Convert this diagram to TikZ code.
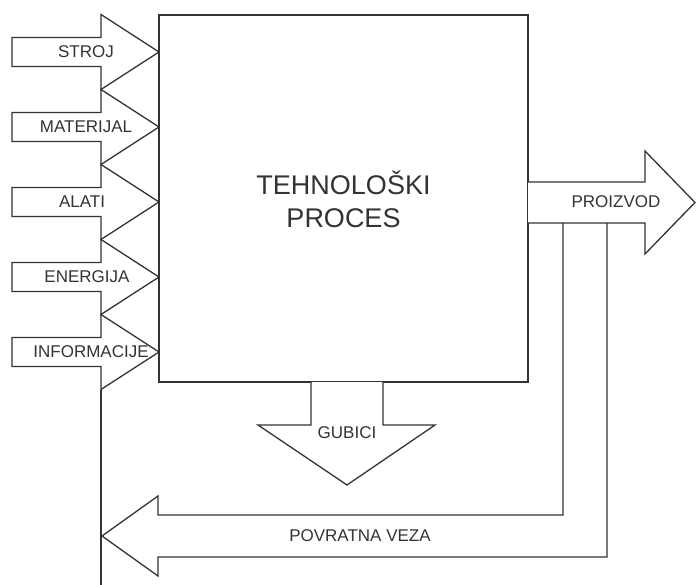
\documentclass[tikz,border=0pt]{standalone}
\usepackage{fontspec}
\setmainfont{Liberation Sans}
\definecolor{linec}{HTML}{333333}
\definecolor{txtc}{HTML}{333333}
\begin{document}
\begin{tikzpicture}[x=1pt,y=-1pt]
\tikzset{
  shapeline/.style={draw=linec, line width=1.3pt, fill=white, line join=miter},
  plainline/.style={draw=linec, line width=1.3pt},
  lbl/.style={text=txtc, font=\fontsize{17}{20}\selectfont, inner sep=0pt},
  ttl/.style={text=txtc, font=\fontsize{27}{33}\selectfont, align=center, inner sep=0pt}
}
\useasboundingbox (0,0) rectangle (696,585);

% input arrows
\foreach \i/\t/\lx in {0/STROJ/86,1/MATERIJAL/86,2/ALATI/82,3/ENERGIJA/87,4/INFORMACIJE/91}{
  \pgfmathsetmacro\c{52+75*\i}
  \draw[shapeline] (12,\c-14.5) -- (101,\c-14.5) -- (101,\c-37.5) -- (159,\c)
     -- (101,\c+37.5) -- (101,\c+14.5) -- (12,\c+14.5) -- cycle;
  \node[lbl] (in\i) at (\lx,\c) {\t};
}

% main process box
\node[draw=linec, line width=1.3pt, fill=white, minimum width=369pt, minimum height=367pt, inner sep=0pt]
  (proc) at (343.5,198.5) {};
\node[ttl] (title) at (343.5,199) {TEHNOLOŠKI\\PROCES};

% losses arrow
\draw[shapeline] (311,382) -- (311,425) -- (258,425) -- (347,485) -- (435,425) -- (383,425) -- (383,382);
\node[lbl] (gub) at (347,433) {GUBICI};

% product arrow
\draw[shapeline] (528,182) -- (645,182) -- (645,151) -- (695,202.5) -- (645,254) -- (645,223) -- (528,223);
\node[lbl] (out) at (616,201.5) {PROIZVOD};

% feedback arrow
\draw[plainline, line join=miter] (563,223) -- (563,515) -- (158,515) -- (158,496) -- (102,536)
   -- (158,576) -- (158,557) -- (607,557) -- (607,223);
\node[lbl] (fb) at (360,536) {POVRATNA VEZA};

% return line to inputs
\coordinate (r1) at (101,389.5);
\coordinate (r2) at (101,585);
\draw[plainline] (r1) -- (r2);
\end{tikzpicture}
\end{document}
